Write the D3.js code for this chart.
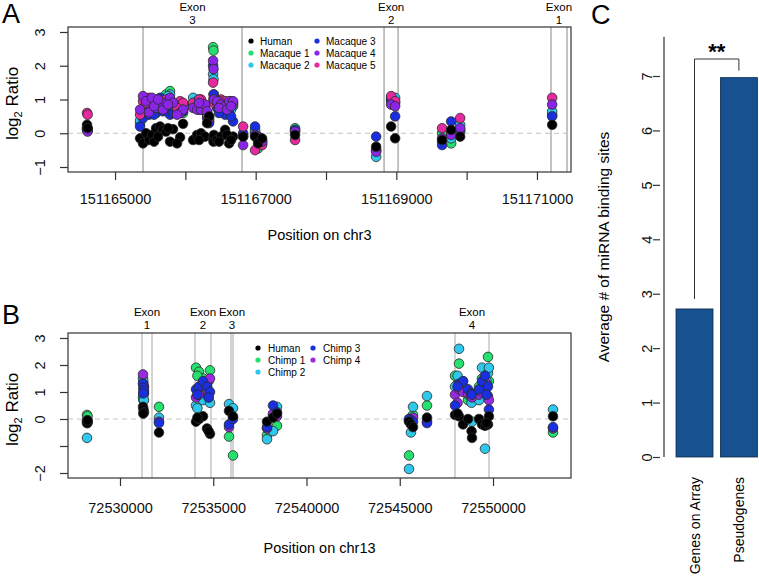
<!DOCTYPE html>
<html><head><meta charset="utf-8">
<script src="https://cdn.jsdelivr.net/npm/d3@7"></script>
<style>
body{margin:0;background:#fff;}
svg{display:block;font-family:"Liberation Sans",Arial,Helvetica,sans-serif;}
</style></head>
<body><svg id="c" width="759" height="577"></svg>
<script>
// ---------- Panel A data (chr3) ----------
const posA = [151164602,151164610,151165356,151165398,151165441,151165484,151165526,151165583,151165640,151165683,151165725,151165782,151165825,151165925,151165967,151166110,151166166,151166223,151166280,151166337,151166394,151166400,151166406,151166451,151166508,151166565,151166622,151166678,151166821,151166991,151167034,151167091,151167560,151168713,151168926,151168983,151169651,151169780,151169908,151171216,
              151165555,151165612,151165754,151165882,151166195,151166309,151166479,151166593,151166650];
const humanA    = [0.25,0.15,-0.15,-0.30,0.00,-0.20,-0.05,0.15,0.20,0.10,0.05,-0.25,0.12,-0.12,0.28,-0.20,-0.05,0.00,-0.10,0.50,-0.15,-0.25,-0.05,-0.20,-0.10,0.10,-0.30,-0.10,-0.10,-0.10,-0.30,-0.15,-0.05,-0.40,0.20,-0.15,-0.20,0.10,-0.10,0.25,
                   -0.25,-0.10,0.15,-0.30,-0.20,0.30,-0.25,-0.05,-0.20];
const macaque1A = [0.18,0.12,0.30,0.55,0.80,0.70,0.85,0.70,0.90,0.75,1.15,1.25,0.80,0.75,0.60,0.85,0.80,0.90,0.75,0.40,2.55,2.45,1.15,0.85,0.80,0.70,0.85,0.80,-0.05,0.05,-0.45,-0.20,0.15,-0.50,1.05,0.90,0.00,-0.30,0.05,0.55,
                   0.65,0.95,0.95,0.70,0.95,0.60,0.85,0.90,0.75];
const macaque2A = [0.15,0.10,0.38,0.65,0.75,0.60,0.80,0.65,0.85,0.70,0.95,1.15,0.75,0.85,0.85,1.05,0.95,0.85,0.70,0.35,1.75,1.60,1.05,0.80,0.90,0.75,0.80,0.85,-0.10,0.10,-0.20,-0.25,0.05,-0.70,0.95,1.05,-0.25,-0.15,0.25,0.65,
                   0.70,0.90,1.10,0.65,1.00,0.55,0.70,0.80,0.70];
const macaque3A = [0.12,0.08,0.20,0.45,0.60,0.55,0.75,0.60,1.05,0.65,0.85,0.55,0.60,0.70,0.65,0.80,0.85,0.80,0.65,0.30,2.00,1.15,0.95,0.75,0.70,0.55,0.70,0.35,0.00,0.20,-0.10,-0.30,0.10,-0.10,1.00,0.50,-0.35,0.35,0.10,0.50,
                   0.55,0.80,0.80,0.60,0.70,0.45,0.60,0.75,0.50];
const macaque4A = [0.10,0.05,0.70,1.10,0.95,0.62,1.05,0.75,0.80,0.70,0.90,1.05,0.90,0.60,0.70,0.75,0.70,0.70,0.85,0.50,2.15,1.90,1.00,0.95,0.85,0.80,0.95,0.95,-0.35,-0.05,-0.10,-0.25,0.05,-0.55,0.85,0.80,-0.15,-0.05,0.15,0.85,
                   0.80,1.00,0.85,0.55,0.90,0.65,0.75,0.70,0.80];
const macaque5A = [0.60,0.55,0.55,0.95,0.90,1.05,0.95,0.85,0.95,0.80,1.00,1.00,0.85,0.95,0.90,0.90,0.80,1.00,0.80,0.45,1.50,1.00,0.90,0.90,1.00,0.95,0.90,0.90,0.20,-0.50,-0.15,-0.35,-0.20,-0.50,1.10,0.95,0.15,0.05,0.45,1.05,
                   0.75,0.90,0.95,0.75,1.00,0.55,0.95,0.85,0.95];
const namesA  = ["Human","Macaque 1","Macaque 2","Macaque 3","Macaque 4","Macaque 5"];
const colorsA = ["#000000","#25e06e","#2fc8ec","#1a2fe0","#8a25e8","#e42a9e"];
const exonStartA = [151165398,151168826,151171199];
const exonEndA   = [151166806,151169025,151171427];
const exonLabelA = ["3","2","1"];
const xTicksA = [151165000,151166000,151167000,151168000,151169000,151170000,151171000];
const xTickLabelsA = ["151165000","","151167000","","151169000","","151171000"];
const yTicksA = [-1,0,1,2,3];
const yTickLabelsA = ["\u22121","0","1","2","3"];

// ---------- Panel B data (chr13) ----------
const posB = [72528231,72528260,72531233,72531260,72531287,72532091,72534075,72534236,72534450,72534665,72534826,72535845,72536059,72537882,72538204,72538418,72545496,72545600,72545711,72546461,72547963,72548178,72548393,72548660,72548850,72548874,72549250,72549410,72549571,72549732,72549780,72553217,
              72534150,72534750,72548100,72549650,72531250];
const humanB  = [-0.15,-0.05,0.45,0.35,0.25,-0.50,-0.10,0.00,0.10,-0.35,-0.55,0.30,0.10,-0.10,0.05,0.20,-0.10,-0.20,-0.30,0.05,0.15,0.10,-0.20,0.00,-0.45,-0.70,0.00,-0.20,-0.25,-0.20,0.10,0.10,
                 0.05,-0.45,0.20,-0.15,0.20];
const chimp1B = [0.15,0.10,0.80,1.10,0.95,0.45,1.90,1.75,1.50,1.20,1.80,-0.65,-1.35,-0.60,0.15,-0.25,-1.35,0.05,0.15,0.50,1.60,2.05,1.40,0.70,0.80,0.65,1.20,1.50,1.30,2.30,1.40,-0.50,
                 1.60,1.40,1.30,1.70,0.70];
const chimp2B = [-0.70,-0.10,1.50,0.90,0.70,0.05,0.50,0.85,0.70,1.00,0.60,0.55,0.40,-0.75,-0.45,0.45,-1.85,-0.50,0.45,0.85,1.20,2.60,1.20,0.90,0.60,-0.10,0.70,1.90,-1.10,1.70,1.90,0.35,
                 0.40,0.80,1.60,1.40,1.40];
const chimp3B = [-0.10,-0.15,1.30,1.15,1.05,-0.15,1.10,1.20,1.40,1.20,1.00,-0.20,0.00,-0.30,0.50,0.25,0.00,-0.05,-0.10,-0.15,0.50,1.30,1.40,1.10,0.95,0.90,1.10,1.40,1.60,1.20,0.35,-0.30,
                 0.90,0.80,1.20,0.90,0.95];
const chimp4B = [-0.05,-0.10,1.65,1.00,1.20,-0.10,0.80,0.90,1.25,1.35,1.50,-0.30,0.05,-0.35,0.20,0.10,-0.05,-0.10,0.05,-0.10,0.90,1.10,1.00,0.95,0.85,0.80,0.90,1.00,1.20,0.85,0.70,-0.35,
                 1.10,1.00,0.60,1.30,1.30];
const namesB  = ["Human","Chimp 1","Chimp 2","Chimp 3","Chimp 4"];
const colorsB = ["#000000","#25e06e","#2fc8ec","#1a2fe0","#9a2ae0"];
const exonStartB = [72531180,72534022,72535952,72547963];
const exonEndB   = [72531716,72534879,72536059,72549786];
const exonLabelB = ["1","2","3","4"];
const xTicksB = [72530000,72535000,72540000,72545000,72550000];
const xTickLabelsB = ["72530000","72535000","72540000","72545000","72550000"];
const yTicksB = [-2,-1,0,1,2,3];
const yTickLabelsB = ["\u22122","","0","1","2","3"];

// ---------- Panel C data ----------
const categoriesC = ["Genes on Array","Pseudogenes"];
const valuesC = [2.72,6.97];
const yTicksC = [0,1,2,3,4,5,6,7];

const svg = d3.select("#c");
const FONT = '"Liberation Sans",Arial,Helvetica,sans-serif';

function scatterPanel(cfg){
  const g = svg.append("g");
  const x = d3.scaleLinear().domain(cfg.xDomain).range([cfg.left,cfg.right]);
  const y = d3.scaleLinear().domain(cfg.yDomain).range([cfg.bottom,cfg.top]);
  // exon lines
  cfg.exStart.forEach((s,i)=>{
    [s,cfg.exEnd[i]].forEach(p=>{
      g.append("line").attr("x1",x(p)).attr("x2",x(p)).attr("y1",cfg.top).attr("y2",cfg.bottom)
        .attr("stroke","#bdbdbd").attr("stroke-width",cfg.exonW);
    });
    const cx = x((s+cfg.exEnd[i])/2);
    g.append("text").attr("x",cx).attr("y",cfg.exonY1).attr("text-anchor","middle").attr("font-size",11.5).text("Exon");
    g.append("text").attr("x",cx).attr("y",cfg.exonY2).attr("text-anchor","middle").attr("font-size",11.5).text(cfg.exLab[i]);
  });
  // zero line
  g.append("line").attr("x1",cfg.left).attr("x2",cfg.right).attr("y1",y(0)).attr("y2",y(0))
    .attr("stroke","#c4c4c4").attr("stroke-width",1.2).attr("stroke-dasharray","5,4");
  // points
  cfg.order.forEach(si=>{
    const vals = cfg.series[si];
    g.append("g").selectAll("circle").data(cfg.pos.map((p,i)=>({p,v:vals[i]}))).join("circle")
      .attr("cx",d=>x(d.p)).attr("cy",d=>y(d.v)).attr("r",4.8)
      .attr("fill",cfg.colors[si]).attr("stroke","#2a2a2a").attr("stroke-width",0.8);
  });
  // box
  g.append("rect").attr("x",cfg.left).attr("y",cfg.top).attr("width",cfg.right-cfg.left).attr("height",cfg.bottom-cfg.top)
    .attr("fill","none").attr("stroke","#333").attr("stroke-width",1.2);
  // x axis
  const xa = g.append("g").attr("transform",`translate(0,${cfg.bottom})`)
    .call(d3.axisBottom(x).tickValues(cfg.xTicks).tickSize(8).tickFormat((d,i)=>cfg.xTickLabels[i]));
  xa.select(".domain").remove();
  xa.selectAll("line").attr("stroke","#333").attr("stroke-width",1.2);
  xa.selectAll("text").attr("font-family",FONT).attr("font-size",14.5).attr("fill","#111").attr("y",cfg.xLabY-cfg.bottom).attr("dy",0);
  // y axis
  const ya = g.append("g").attr("transform",`translate(${cfg.left},0)`)
    .call(d3.axisLeft(y).tickValues(cfg.yTicks).tickSize(8).tickFormat((d,i)=>cfg.yTickLabels[i]));
  ya.select(".domain").remove();
  ya.selectAll("line").attr("stroke","#333").attr("stroke-width",1.2);
  ya.selectAll("text").attr("font-family",FONT).attr("font-size",14.5).attr("fill","#111")
    .attr("x",0).attr("dy",0).attr("text-anchor","middle").attr("transform","translate(-23,0) rotate(-90)");
  // axis titles
  const yt = g.append("text").attr("transform",`translate(${cfg.yTitleX},${(cfg.top+cfg.bottom)/2+4}) rotate(-90)`)
    .attr("text-anchor","middle").attr("font-size",17);
  yt.append("tspan").text("log");
  yt.append("tspan").attr("font-size",11).attr("dy",4).text("2");
  yt.append("tspan").attr("dy",-4).text(" Ratio");
  g.append("text").attr("x",(cfg.left+cfg.right)/2).attr("y",cfg.xTitleY).attr("text-anchor","middle").attr("font-size",14.5).text(cfg.xTitle);
  // panel letter
  g.append("text").attr("x",2).attr("y",cfg.letterY).attr("font-size",27).text(cfg.letter);
  // legend
  cfg.names.forEach((n,i)=>{
    const col = Math.floor(i/3), row = i%3;
    const lx = cfg.legX[col], ly = cfg.legY + row*12;
    g.append("circle").attr("cx",lx).attr("cy",ly).attr("r",2.6).attr("fill",cfg.colors[i]);
    g.append("text").attr("x",lx+cfg.legGap).attr("y",ly+3.5).attr("font-size",10).text(n);
  });
}

scatterPanel({
  left:68,right:571,top:27,bottom:172,
  xDomain:[151164331,151171484], yDomain:[-1.148,3.148],
  pos:posA, series:[humanA,macaque1A,macaque2A,macaque3A,macaque4A,macaque5A], order:[1,2,3,5,4,0],
  colors:colorsA, names:namesA,
  exStart:exonStartA, exEnd:exonEndA, exLab:exonLabelA, exonW:1.8, exonY1:11, exonY2:23.5,
  xTicks:xTicksA, xTickLabels:xTickLabelsA, yTicks:yTicksA, yTickLabels:yTickLabelsA,
  xLabY:204, xTitleY:240, xTitle:"Position on chr3", yTitleX:18, letter:"A", letterY:23,
  legX:[251,317], legY:41, legGap:9
});
scatterPanel({
  left:68,right:571,top:333,bottom:478,
  xDomain:[72527212,72554182], yDomain:[-2.185,3.185],
  pos:posB, series:[humanB,chimp1B,chimp2B,chimp3B,chimp4B], order:[1,2,4,3,0],
  colors:colorsB, names:namesB,
  exStart:exonStartB, exEnd:exonEndB, exLab:exonLabelB, exonW:1.3, exonY1:316, exonY2:328.5,
  xTicks:xTicksB, xTickLabels:xTickLabelsB, yTicks:yTicksB, yTickLabels:yTickLabelsB,
  xLabY:513, xTitleY:553, xTitle:"Position on chr13", yTitleX:18, letter:"B", letterY:324,
  legX:[258,313], legY:348, legGap:10
});

// ---------- Panel C ----------
(function(){
  const g = svg.append("g");
  const y = d3.scaleLinear().domain([0,7]).range([457,76]);
  const x = d3.scaleBand().domain(categoriesC).range([676,757.4]).paddingInner(1/6).paddingOuter(0);
  g.selectAll("rect.bar").data(categoriesC).join("rect").attr("class","bar")
    .attr("x",d=>x(d)).attr("width",x.bandwidth())
    .attr("y",(d,i)=>y(valuesC[i])).attr("height",(d,i)=>y(0)-y(valuesC[i]))
    .attr("fill","#175190").attr("stroke","#0d2a4a").attr("stroke-width",0.8);
  // axis line
  g.append("line").attr("x1",664).attr("x2",664).attr("y1",y(7.72)).attr("y2",y(0)).attr("stroke","#333").attr("stroke-width",1.2);
  const ya = g.append("g").attr("transform","translate(660,0)")
    .call(d3.axisLeft(y).tickValues(yTicksC).tickSize(7).tickFormat(d3.format("d")));
  ya.select(".domain").remove();
  ya.selectAll("line").attr("stroke","#333").attr("stroke-width",1.2);
  ya.selectAll("text").attr("font-family",FONT).attr("font-size",14.5).attr("fill","#111")
    .attr("x",0).attr("dy",0).attr("text-anchor","middle").attr("transform","translate(-8,0) rotate(-90)");
  g.append("text").attr("transform","translate(609,247) rotate(-90)").attr("text-anchor","middle").attr("font-size",15.5)
    .text("Average # of miRNA binding sites");
  // category labels
  categoriesC.forEach(c=>{
    g.append("text").attr("transform",`translate(${x(c)+x.bandwidth()/2+5},477) rotate(-90)`)
      .attr("text-anchor","end").attr("font-size",14).text(c);
  });
  // significance bracket
  const bx1 = x(categoriesC[0])+x.bandwidth()/2, bx2 = x(categoriesC[1])+x.bandwidth()/2;
  g.append("path").attr("d",`M${bx1},${y(valuesC[0])-10}V59H${bx2}V${y(valuesC[1])-7}`)
    .attr("fill","none").attr("stroke","#333").attr("stroke-width",1);
  g.append("text").attr("x",(bx1+bx2)/2).attr("y",59).attr("text-anchor","middle").attr("font-size",22).attr("font-weight","bold").text("**");
  g.append("text").attr("x",591).attr("y",24).attr("font-size",27).text("C");
})();
</script></body></html>
